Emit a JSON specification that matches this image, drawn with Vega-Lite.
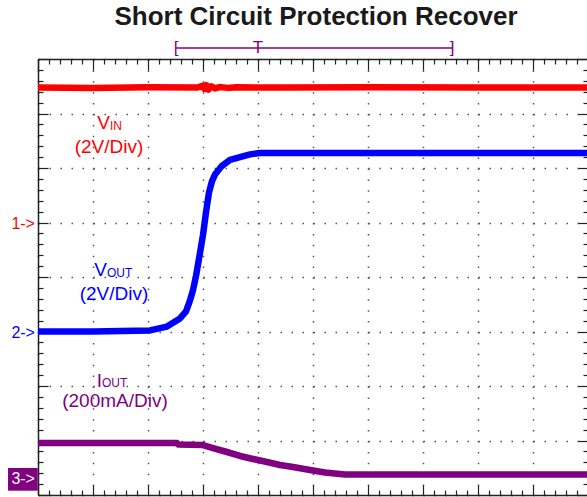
{
  "$schema": "https://vega.github.io/schema/vega-lite/v6.json",
  "width": 550,
  "height": 436,
  "autosize": {"type": "none"},
  "padding": {"left": 38, "top": 59, "right": 0, "bottom": 2},
  "background": "white",
  "title": {
    "text": "Short Circuit Protection Recover",
    "font": "Liberation Sans",
    "fontSize": 26,
    "fontWeight": "bold",
    "color": "#1a1a1a",
    "anchor": "middle",
    "frame": "group",
    "baseline": "alphabetic",
    "offset": 0,
    "dy": 12,
    "dx": 3
  },
  "config": {
    "view": {"stroke": null},
    "axis": {
      "labels": false,
      "title": null,
      "domain": true,
      "domainColor": "#222222",
      "domainWidth": 1.5,
      "tickColor": "#222222",
      "tickWidth": 1.2,
      "grid": false
    }
  },
  "datasets": {
    "traces": [
      {"ch": "VIN", "t": 0, "v": 7.477},
      {"ch": "VIN", "t": 1.0, "v": 7.47},
      {"ch": "VIN", "t": 2.0, "v": 7.48},
      {"ch": "VIN", "t": 2.9, "v": 7.477},
      {"ch": "VIN", "t": 3.0, "v": 7.51},
      {"ch": "VIN", "t": 3.03, "v": 7.45},
      {"ch": "VIN", "t": 3.06, "v": 7.52},
      {"ch": "VIN", "t": 3.1, "v": 7.44},
      {"ch": "VIN", "t": 3.15, "v": 7.5},
      {"ch": "VIN", "t": 3.22, "v": 7.46},
      {"ch": "VIN", "t": 3.3, "v": 7.485},
      {"ch": "VIN", "t": 3.45, "v": 7.47},
      {"ch": "VIN", "t": 3.6, "v": 7.48},
      {"ch": "VIN", "t": 4.5, "v": 7.475},
      {"ch": "VIN", "t": 6.0, "v": 7.48},
      {"ch": "VIN", "t": 8.0, "v": 7.475},
      {"ch": "VIN", "t": 10, "v": 7.477},
      {"ch": "VOUT", "t": 0, "v": 3.0},
      {"ch": "VOUT", "t": 1.0, "v": 3.0},
      {"ch": "VOUT", "t": 2.036, "v": 3.02},
      {"ch": "VOUT", "t": 2.345, "v": 3.09},
      {"ch": "VOUT", "t": 2.582, "v": 3.24},
      {"ch": "VOUT", "t": 2.691, "v": 3.37},
      {"ch": "VOUT", "t": 2.764, "v": 3.57},
      {"ch": "VOUT", "t": 2.818, "v": 3.76},
      {"ch": "VOUT", "t": 2.873, "v": 4.02},
      {"ch": "VOUT", "t": 2.945, "v": 4.44},
      {"ch": "VOUT", "t": 3.0, "v": 4.77},
      {"ch": "VOUT", "t": 3.055, "v": 5.19},
      {"ch": "VOUT", "t": 3.109, "v": 5.55},
      {"ch": "VOUT", "t": 3.164, "v": 5.76},
      {"ch": "VOUT", "t": 3.218, "v": 5.88},
      {"ch": "VOUT", "t": 3.345, "v": 6.04},
      {"ch": "VOUT", "t": 3.491, "v": 6.15},
      {"ch": "VOUT", "t": 3.673, "v": 6.2},
      {"ch": "VOUT", "t": 3.855, "v": 6.25},
      {"ch": "VOUT", "t": 4.036, "v": 6.275},
      {"ch": "VOUT", "t": 10, "v": 6.275},
      {"ch": "IOUT", "t": 0, "v": 0.954},
      {"ch": "IOUT", "t": 2.527, "v": 0.954},
      {"ch": "IOUT", "t": 2.545, "v": 0.927},
      {"ch": "IOUT", "t": 3.0, "v": 0.917},
      {"ch": "IOUT", "t": 3.182, "v": 0.862},
      {"ch": "IOUT", "t": 3.436, "v": 0.789},
      {"ch": "IOUT", "t": 3.673, "v": 0.716},
      {"ch": "IOUT", "t": 3.909, "v": 0.661},
      {"ch": "IOUT", "t": 4.164, "v": 0.606},
      {"ch": "IOUT", "t": 4.4, "v": 0.55},
      {"ch": "IOUT", "t": 4.636, "v": 0.514},
      {"ch": "IOUT", "t": 4.945, "v": 0.459},
      {"ch": "IOUT", "t": 5.218, "v": 0.413},
      {"ch": "IOUT", "t": 5.582, "v": 0.376},
      {"ch": "IOUT", "t": 10, "v": 0.376}
    ],
    "labels": [
      {"ch": "VIN", "part": "main", "t": 1.309, "v": 6.716, "text": "V"},
      {"ch": "VOUT", "part": "main", "t": 1.2545, "v": 4.018, "text": "V"},
      {"ch": "IOUT", "part": "main", "t": 1.164, "v": 1.99, "text": "I"},
      {"ch": "VIN", "part": "sub", "t": 1.309, "v": 6.697, "text": "IN"},
      {"ch": "VOUT", "part": "sub", "t": 1.2545, "v": 4.0, "text": "OUT"},
      {"ch": "IOUT", "part": "sub", "t": 1.164, "v": 1.975, "text": "OUT"},
      {"ch": "VIN", "part": "scale", "t": 1.291, "v": 6.275, "text": "(2V/Div)"},
      {"ch": "VOUT", "part": "scale", "t": 1.382, "v": 3.578, "text": "(2V/Div)"},
      {"ch": "IOUT", "part": "scale", "t": 1.4, "v": 1.62, "text": "(200mA/Div)"}
    ],
    "markers": [
      {"ch": "VIN", "t": -0.055, "v": 4.97, "text": "1->"},
      {"ch": "VOUT", "t": -0.055, "v": 2.97, "text": "2->"},
      {"ch": "IOUT", "t": -0.055, "v": 0.29, "text": "3->"}
    ],
    "markerBox": [
      {"ch": "IOUT", "t": -0.545, "t2": -0.005, "v": 0.079, "v2": 0.495}
    ],
    "trigger": [
      {"t": 2.51, "t2": 7.53, "v": 8.2}
    ],
    "triggerGlyphs": [
      {"t": 2.51, "v": 8.2, "text": "["},
      {"t": 4.0, "v": 8.2, "text": "T"},
      {"t": 7.53, "v": 8.2, "text": "]"}
    ]
  },
  "layer": [
    {
      "data": {"name": "traces"},
      "mark": {"type": "line", "strokeWidth": 6.5, "strokeCap": "butt", "strokeJoin": "round"},
      "encoding": {
        "x": {
          "field": "t", "type": "quantitative",
          "scale": {"domain": [0, 10], "nice": false, "zero": false},
          "axis": {
            "orient": "bottom",
            "values": [0,0.2,0.4,0.6,0.8,1,1.2,1.4,1.6,1.8,2,2.2,2.4,2.6,2.8,3,3.2,3.4,3.6,3.8,4,4.2,4.4,4.6,4.8,5,5.2,5.4,5.6,5.8,6,6.2,6.4,6.6,6.8,7,7.2,7.4,7.6,7.8,8,8.2,8.4,8.6,8.8,9,9.2,9.4,9.6,9.8,10],
            "tickSize": {"condition": {"test": "abs(datum.value - round(datum.value)) < 0.01", "value": -10}, "value": -5},
            "grid": true,
            "gridColor": "#555555",
            "gridWidth": 1.5,
            "gridDash": [1.5, 9.4],
            "gridOpacity": {"condition": {"test": "abs(datum.value - round(datum.value)) < 0.01", "value": 1}, "value": 0}
          }
        },
        "y": {
          "field": "v", "type": "quantitative",
          "scale": {"domain": [0, 8], "nice": false, "zero": false},
          "axis": {
            "orient": "left",
            "values": [0,0.2,0.4,0.6,0.8,1,1.2,1.4,1.6,1.8,2,2.2,2.4,2.6,2.8,3,3.2,3.4,3.6,3.8,4,4.2,4.4,4.6,4.8,5,5.2,5.4,5.6,5.8,6,6.2,6.4,6.6,6.8,7,7.2,7.4,7.6,7.8,8],
            "tickSize": {"condition": {"test": "abs(datum.value - round(datum.value)) < 0.01", "value": -10}, "value": -5},
            "grid": true,
            "gridColor": "#555555",
            "gridWidth": 1.5,
            "gridDash": [1.5, 9.5],
            "gridOpacity": {"condition": {"test": "abs(datum.value - round(datum.value)) < 0.01", "value": 1}, "value": 0}
          }
        },
        "color": {
          "field": "ch", "type": "nominal",
          "scale": {"domain": ["VIN", "VOUT", "IOUT"], "range": ["#ff0000", "#0000ff", "#800080"]},
          "legend": null
        }
      }
    },
    {
      "data": {"name": "trigger"},
      "mark": {"type": "rule", "color": "#800080", "strokeWidth": 1.5},
      "encoding": {
        "x": {
          "field": "t", "type": "quantitative",
          "scale": {"domain": [0, 10], "nice": false, "zero": false},
          "axis": {
            "orient": "top",
            "values": [0,0.2,0.4,0.6,0.8,1,1.2,1.4,1.6,1.8,2,2.2,2.4,2.6,2.8,3,3.2,3.4,3.6,3.8,4,4.2,4.4,4.6,4.8,5,5.2,5.4,5.6,5.8,6,6.2,6.4,6.6,6.8,7,7.2,7.4,7.6,7.8,8,8.2,8.4,8.6,8.8,9,9.2,9.4,9.6,9.8,10],
            "tickSize": {"condition": {"test": "abs(datum.value - round(datum.value)) < 0.01", "value": -11}, "value": -5}
          }
        },
        "x2": {"field": "t2"},
        "y": {
          "field": "v", "type": "quantitative",
          "scale": {"domain": [0, 8], "nice": false, "zero": false},
          "axis": {
            "orient": "right",
            "values": [0,0.2,0.4,0.6,0.8,1,1.2,1.4,1.6,1.8,2,2.2,2.4,2.6,2.8,3,3.2,3.4,3.6,3.8,4,4.2,4.4,4.6,4.8,5,5.2,5.4,5.6,5.8,6,6.2,6.4,6.6,6.8,7,7.2,7.4,7.6,7.8,8],
            "tickSize": {"condition": {"test": "abs(datum.value - round(datum.value)) < 0.01", "value": -10}, "value": -5}
          }
        }
      }
    },
    {
      "data": {"name": "triggerGlyphs"},
      "mark": {"type": "text", "font": "Liberation Sans", "fontSize": 17, "color": "#800080", "baseline": "middle", "align": "center"},
      "encoding": {
        "x": {"field": "t", "type": "quantitative", "scale": {"domain": [0, 10], "nice": false, "zero": false}, "axis": null},
        "y": {"field": "v", "type": "quantitative", "scale": {"domain": [0, 8], "nice": false, "zero": false}, "axis": null},
        "text": {"field": "text"}
      }
    },
    {
      "data": {"name": "labels"},
      "transform": [{"filter": "datum.part == 'main'"}],
      "mark": {"type": "text", "font": "Liberation Sans", "fontSize": 19, "align": "right", "baseline": "alphabetic"},
      "encoding": {
        "x": {"field": "t", "type": "quantitative", "scale": {"domain": [0, 10], "nice": false, "zero": false}, "axis": null},
        "y": {"field": "v", "type": "quantitative", "scale": {"domain": [0, 8], "nice": false, "zero": false}, "axis": null},
        "text": {"field": "text"},
        "color": {"field": "ch", "type": "nominal", "scale": {"domain": ["VIN", "VOUT", "IOUT"], "range": ["#ff0000", "#0000ff", "#800080"]}, "legend": null}
      }
    },
    {
      "data": {"name": "labels"},
      "transform": [{"filter": "datum.part == 'sub'"}],
      "mark": {"type": "text", "font": "Liberation Sans", "fontSize": 12, "align": "left", "baseline": "alphabetic"},
      "encoding": {
        "x": {"field": "t", "type": "quantitative", "scale": {"domain": [0, 10], "nice": false, "zero": false}, "axis": null},
        "y": {"field": "v", "type": "quantitative", "scale": {"domain": [0, 8], "nice": false, "zero": false}, "axis": null},
        "text": {"field": "text"},
        "color": {"field": "ch", "type": "nominal", "scale": {"domain": ["VIN", "VOUT", "IOUT"], "range": ["#ff0000", "#0000ff", "#800080"]}, "legend": null}
      }
    },
    {
      "data": {"name": "labels"},
      "transform": [{"filter": "datum.part == 'scale'"}],
      "mark": {"type": "text", "font": "Liberation Sans", "fontSize": 19, "align": "center", "baseline": "alphabetic"},
      "encoding": {
        "x": {"field": "t", "type": "quantitative", "scale": {"domain": [0, 10], "nice": false, "zero": false}, "axis": null},
        "y": {"field": "v", "type": "quantitative", "scale": {"domain": [0, 8], "nice": false, "zero": false}, "axis": null},
        "text": {"field": "text"},
        "color": {"field": "ch", "type": "nominal", "scale": {"domain": ["VIN", "VOUT", "IOUT"], "range": ["#ff0000", "#0000ff", "#800080"]}, "legend": null}
      }
    },
    {
      "data": {"name": "markerBox"},
      "mark": {"type": "rect", "color": "#800080"},
      "encoding": {
        "x": {"field": "t", "type": "quantitative", "scale": {"domain": [0, 10], "nice": false, "zero": false}, "axis": null},
        "x2": {"field": "t2"},
        "y": {"field": "v", "type": "quantitative", "scale": {"domain": [0, 8], "nice": false, "zero": false}, "axis": null},
        "y2": {"field": "v2"}
      }
    },
    {
      "data": {"name": "markers"},
      "transform": [{"filter": "datum.ch != 'IOUT'"}],
      "mark": {"type": "text", "font": "Liberation Sans", "fontSize": 16, "align": "right", "baseline": "middle"},
      "encoding": {
        "x": {"field": "t", "type": "quantitative", "scale": {"domain": [0, 10], "nice": false, "zero": false}, "axis": null},
        "y": {"field": "v", "type": "quantitative", "scale": {"domain": [0, 8], "nice": false, "zero": false}, "axis": null},
        "text": {"field": "text"},
        "color": {"field": "ch", "type": "nominal", "scale": {"domain": ["VIN", "VOUT", "IOUT"], "range": ["#ff0000", "#0000ff", "#800080"]}, "legend": null}
      }
    },
    {
      "data": {"name": "markers"},
      "transform": [{"filter": "datum.ch == 'IOUT'"}],
      "mark": {"type": "text", "font": "Liberation Sans", "fontSize": 16, "align": "right", "baseline": "middle", "color": "#ffffff"},
      "encoding": {
        "x": {"field": "t", "type": "quantitative", "scale": {"domain": [0, 10], "nice": false, "zero": false}, "axis": null},
        "y": {"field": "v", "type": "quantitative", "scale": {"domain": [0, 8], "nice": false, "zero": false}, "axis": null},
        "text": {"field": "text"}
      }
    }
  ],
  "resolve": {"axis": {"x": "independent", "y": "independent"}}
}
